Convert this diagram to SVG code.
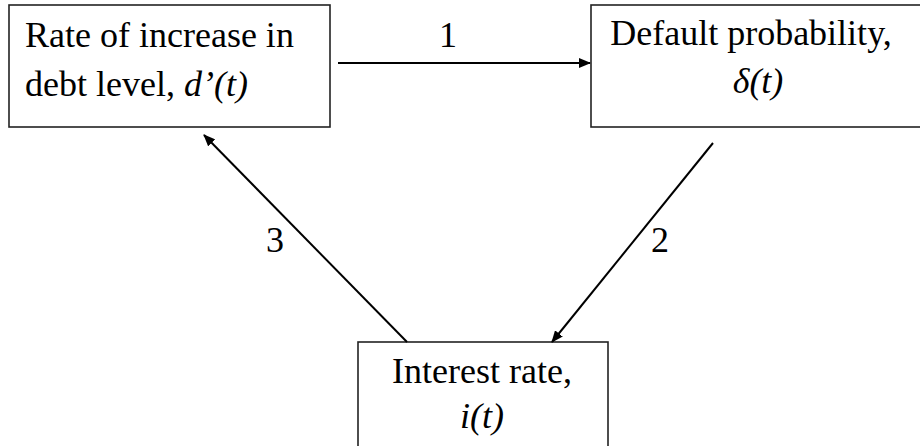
<svg xmlns="http://www.w3.org/2000/svg" width="920" height="446" viewBox="0 0 920 446">
<style>
.box{fill:#fff;stroke:#222;stroke-width:1.6}
.t{font-family:'Liberation Serif','Times New Roman',Tinos,'DejaVu Serif',serif;font-size:36px;fill:#000}
.c{text-anchor:middle}
.i{font-style:italic}
.edge{stroke:#000;stroke-width:2;fill:none;marker-end:url(#ah)}
</style>
<defs>
<marker id="ah" viewBox="0 0 12 10" refX="11" refY="5" markerWidth="12" markerHeight="10" markerUnits="userSpaceOnUse" orient="auto">
<path d="M0,0 L12,5 L0,10 Z" fill="#000"/>
</marker>
</defs>
<g id="node-debt">
<rect class="box" x="9" y="5" width="321" height="122"/>
<text class="t" x="25" y="47">Rate of increase in</text>
<text class="t" x="25" y="96">debt level, <tspan class="i">d’(t)</tspan></text>
</g>
<g id="node-default">
<rect class="box" x="591" y="5" width="340" height="122"/>
<text class="t c" x="751" y="45">Default probability,</text>
<text class="t c i" x="758" y="93">δ(t)</text>
</g>
<g id="node-interest">
<rect class="box" x="358" y="342" width="250" height="120"/>
<text class="t c" x="482" y="383">Interest rate,</text>
<text class="t c i" x="482" y="428">i(t)</text>
</g>
<g id="connectors">
<line class="edge" x1="338" y1="63" x2="590" y2="63"/>
<line class="edge" x1="713" y1="143" x2="552" y2="342"/>
<line class="edge" x1="407" y1="342" x2="204" y2="135"/>
<text class="t c" x="448" y="47">1</text>
<text class="t c" x="660" y="252">2</text>
<text class="t c" x="275" y="252">3</text>
</g>
</svg>
